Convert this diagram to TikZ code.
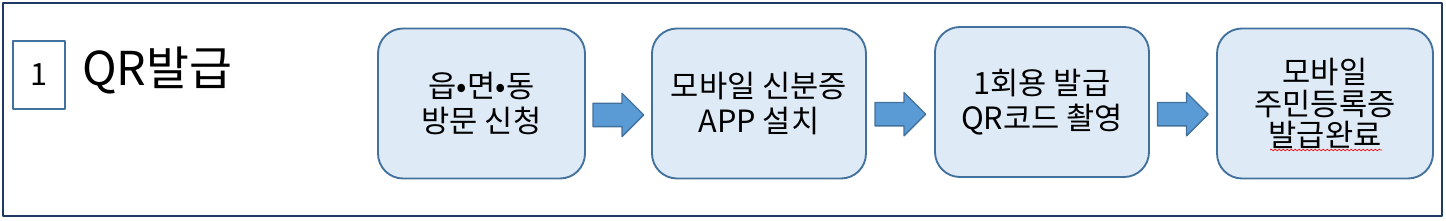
\documentclass[tikz,border=0pt]{standalone}
\usepackage{fontspec}
\setmainfont{Noto Sans CJK KR}
\usetikzlibrary{shapes.arrows,calc,decorations.pathmorphing}

\definecolor{테두리}{HTML}{41719C}
\definecolor{상자}{HTML}{DEEBF7}
\definecolor{화살}{HTML}{5B9BD5}
\definecolor{남색}{HTML}{1F3864}

\tikzset{
  stepbox/.style={draw=테두리, fill=상자, line width=1.4pt, rounded corners=18.75pt,
    minimum height=112.5pt, align=center, inner sep=0pt,
    font=\fontsize{23}{26}\selectfont},
  fatarrow/.style={single arrow, draw=테두리, fill=화살, line width=1pt,
    minimum height=38pt, inner xsep=0pt, inner ysep=8.25pt,
    single arrow head extend=7.5pt, xshift=-4.5pt, yshift=-8.6pt},
}

\begin{document}
\begin{tikzpicture}[x=0.75pt, y=-0.75pt, line join=round]

  \useasboundingbox (0,0) rectangle (1446,221);

  % 바깥 틀
  \draw[남색, line width=1.9pt] (3,3) rectangle (1442,216);

  % 번호와 제목
  \node[draw=테두리, line width=1.8pt, minimum width=39pt, minimum height=51pt,
    inner sep=0pt, font=\fontsize{23}{26}\selectfont] (num) at (39,75) {1};
  \node[anchor=west, font=\fontsize{35}{38}\selectfont, inner sep=0pt] (title) at (82,70) {QR발급};

  % 단계 상자
  \node[stepbox, minimum width=155.25pt] (b1) at (481.5,103.5) {읍•면•동\\방문 신청};
  \node[stepbox, minimum width=160.5pt] (b2) at (759,103.5) {모바일 신분증\\APP 설치};
  \node[stepbox, minimum width=160.5pt] (b3) at (1042,102) {1회용 발급\\QR코드 촬영};
  \node[stepbox, minimum width=162pt, font=\fontsize{23}{23.5}\selectfont] (b4) at (1325,103.5)
    {모바일\\주민등록증\\발급완료};

  % 화살표
  \node[fatarrow] (a1) at ($(b1.east)!0.5!(b2.west)$) {};
  \node[fatarrow] (a2) at ($(b2.east)!0.5!(b3.west)$) {};
  \node[fatarrow] (a3) at ($(b3.east)!0.5!(b4.west)$) {};

  % 맞춤법 밑줄
  \draw[red, line width=0.5pt, decorate,
    decoration={snake, amplitude=0.6pt, segment length=3pt}] (1270,150) -- (1382,150);

\end{tikzpicture}
\end{document}
